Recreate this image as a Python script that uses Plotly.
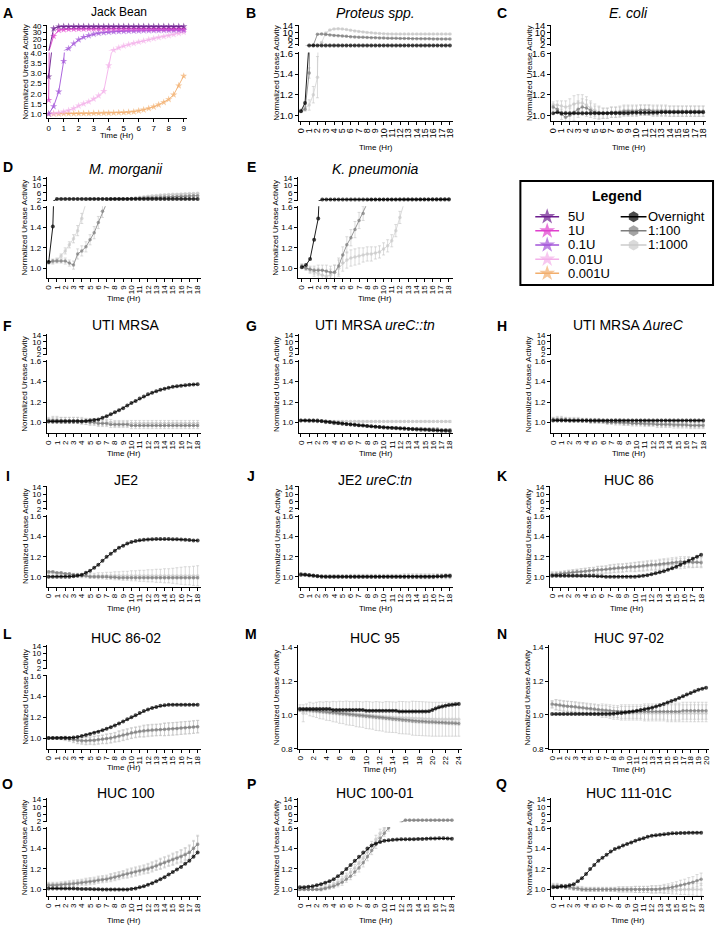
import plotly.graph_objects as go

FONT = "Liberation Sans, Arial, Helvetica, sans-serif"
W, H = 719, 933

# ===================== sampling times (hours) =====================
T_JB = [0, 0.33, 0.67, 1, 1.33, 1.67, 2, 2.33, 2.67, 3, 3.33, 3.67, 4, 4.33,
        4.67, 5, 5.33, 5.67, 6, 6.33, 6.67, 7, 7.33, 7.67, 8, 8.33, 8.67, 9]
T18 = [0, 0.5, 1, 1.5, 2, 2.5, 3, 3.5, 4, 4.5, 5, 5.5, 6, 6.5, 7, 7.5, 8, 8.5, 9, 9.5,
       10, 10.5, 11, 11.5, 12, 12.5, 13, 13.5, 14, 14.5, 15, 15.5, 16, 16.5, 17, 17.5, 18]
T20 = [0, 0.5, 1, 1.5, 2, 2.5, 3, 3.5, 4, 4.5, 5, 5.5, 6, 6.5, 7, 7.5, 8, 8.5, 9, 9.5,
       10, 10.5, 11, 11.5, 12, 12.5, 13, 13.5, 14, 14.5, 15, 15.5, 16, 16.5, 17, 17.5, 18,
       18.5, 19, 19.5, 20]
T24 = [0, 0.5, 1, 1.5, 2, 2.5, 3, 3.5, 4, 4.5, 5, 5.5, 6, 6.5, 7, 7.5, 8, 8.5, 9, 9.5,
       10, 10.5, 11, 11.5, 12, 12.5, 13, 13.5, 14, 14.5, 15, 15.5, 16, 16.5, 17, 17.5, 18,
       18.5, 19, 19.5, 20, 20.5, 21, 21.5, 22, 22.5, 23, 23.5, 24]

# ===================== tick labels =====================
XT9 = [0, 1, 2, 3, 4, 5, 6, 7, 8, 9]
XT18 = [0, 1, 2, 3, 4, 5, 6, 7, 8, 9, 10, 11, 12, 13, 14, 15, 16, 17, 18]
XT20 = [0, 1, 2, 3, 4, 5, 6, 7, 8, 9, 10, 11, 12, 13, 14, 15, 16, 17, 18, 19, 20]
XT24 = [0, 2, 4, 6, 8, 10, 12, 14, 16, 18, 20, 22, 24]
YT_LOW = [1.0, 1.2, 1.4, 1.6]
YT_UP = [2, 6, 10, 14]
YT_MN = [0.8, 1.0, 1.2, 1.4]
YT_JB_LOW = [1.0, 1.5, 2.0, 2.5, 3.0, 3.5, 4.0]
YT_JB_UP = [10, 20, 30, 40]

# ===================== A: Jack bean urease =====================
JB_5U = [2.85, 36.0, 38.8, 39.0, 39.0, 39.0, 39.0, 39.0, 39.0, 39.0,
         39.0, 39.0, 39.0, 39.0, 39.0, 39.0, 39.0, 39.0, 39.0, 39.0,
         39.0, 39.0, 39.0, 39.0, 39.0, 39.0, 39.0, 39.0]
JB_1U = [1.68, 25.0, 33.5, 34.5, 35.0, 35.2, 35.3, 35.4, 35.5, 35.5,
         35.5, 35.5, 35.5, 35.5, 35.5, 35.5, 35.5, 35.5, 35.5, 35.5,
         35.5, 35.5, 35.5, 35.5, 35.5, 35.5, 35.5, 35.5]
JB_01U = [1.0, 1.37, 2.1, 3.62, 6.9, 14.0, 19.7, 23.5, 25.8, 28.0,
          29.2, 30.0, 30.8, 31.3, 31.7, 32.0, 32.3, 32.5, 32.7, 32.9,
          33.0, 33.1, 33.2, 33.3, 33.4, 33.4, 33.5, 33.5]
JB_001U = [1.0, 1.02, 1.05, 1.1, 1.17, 1.27, 1.4, 1.5, 1.6, 1.74,
           1.9, 2.12, 3.4, 4.6, 8.0, 10.7, 12.6, 14.5, 16.4, 18.1,
           19.8, 21.5, 23.0, 24.4, 25.8, 27.4, 29.0, 30.6]
JB_0001U = [1.0, 1.0, 1.0, 1.01, 1.01, 1.01, 1.02, 1.02, 1.02, 1.03,
            1.03, 1.04, 1.04, 1.05, 1.06, 1.07, 1.08, 1.1, 1.15, 1.2,
            1.27, 1.35, 1.45, 1.57, 1.72, 1.95, 2.4, 2.88]

# ===================== B: Proteus =====================
B_ON = [1.04, 1.12, 1.72, 1.72, 1.72, 1.72, 1.72, 1.72, 1.72, 1.72,
        1.72, 1.72, 1.72, 1.72, 1.72, 1.72, 1.72, 1.72, 1.72, 1.72,
        1.72, 1.72, 1.72, 1.72, 1.72, 1.72, 1.72, 1.72, 1.72, 1.72,
        1.72, 1.72, 1.72, 1.72, 1.72, 1.72, 1.72]
B_100 = [1.04, 1.06, 1.41, 1.9, 8.7, 8.9, 8.6, 8.3, 8.0, 7.8,
         7.6, 7.4, 7.2, 7.05, 6.9, 6.8, 6.7, 6.6, 6.5, 6.4,
         6.3, 6.25, 6.2, 6.15, 6.1, 6.05, 6.0, 5.95, 5.9, 5.9,
         5.85, 5.85, 5.8, 5.8, 5.75, 5.75, 5.7]
B_1000 = [1.05, 1.07, 1.1, 1.2, 1.37, 3.5, 9.5, 11.3, 12.0, 12.2,
          12.0, 11.6, 11.2, 10.8, 10.4, 10.1, 9.8, 9.6, 9.4, 9.2,
          9.0, 8.9, 8.8, 8.8, 8.8, 8.8, 8.8, 8.8, 8.8, 8.8,
          8.8, 8.8, 8.8, 8.8, 8.8, 8.8, 8.8]
B_ERR = [0.01, 0.02, 0.05, 0.08, 0.2, 0.2, 0.2, 0.2, 0.2, 0.2,
         0.2, 0.2, 0.2, 0.2, 0.2, 0.2, 0.2, 0.2, 0.2, 0.2,
         0.2, 0.2, 0.2, 0.2, 0.2, 0.2, 0.2, 0.2, 0.2, 0.2,
         0.2, 0.2, 0.2, 0.2, 0.2, 0.2, 0.2]

# ===================== C: E. coli =====================
C_ON = [1.02, 1.03, 1.02, 1.02, 1.02, 1.02, 1.02, 1.02, 1.02, 1.02,
        1.02, 1.02, 1.02, 1.02, 1.02, 1.02, 1.02, 1.02, 1.02, 1.025,
        1.025, 1.025, 1.025, 1.025, 1.025, 1.025, 1.03, 1.03, 1.03, 1.03,
        1.03, 1.03, 1.03, 1.03, 1.03, 1.03, 1.03]
C_100 = [1.08, 1.06, 1.01, 0.98, 1.0, 1.03, 1.06, 1.08, 1.07, 1.05,
         1.03, 1.02, 1.02, 1.02, 1.03, 1.03, 1.03, 1.04, 1.04, 1.04,
         1.04, 1.05, 1.05, 1.05, 1.04, 1.04, 1.04, 1.04, 1.04, 1.04,
         1.04, 1.04, 1.04, 1.04, 1.04, 1.04, 1.04]
C_1000 = [1.1, 1.1, 1.09, 1.08, 1.09, 1.11, 1.12, 1.12, 1.1, 1.07,
          1.05, 1.03, 1.02, 1.02, 1.03, 1.03, 1.04, 1.05, 1.05, 1.05,
          1.05, 1.05, 1.05, 1.05, 1.05, 1.05, 1.05, 1.05, 1.04, 1.04,
          1.04, 1.04, 1.04, 1.04, 1.04, 1.04, 1.04]
C_ERR = [0.03, 0.04, 0.05, 0.06, 0.07, 0.08, 0.08, 0.08, 0.08, 0.07,
         0.06, 0.06, 0.05, 0.05, 0.05, 0.05, 0.05, 0.05, 0.05, 0.05,
         0.05, 0.05, 0.05, 0.05, 0.05, 0.05, 0.05, 0.05, 0.05, 0.05,
         0.05, 0.05, 0.05, 0.05, 0.05, 0.05, 0.05]

# ===================== D: M. morganii =====================
D_ON = [1.06, 1.41, 2.7, 2.7, 2.7, 2.7, 2.7, 2.7, 2.7, 2.7,
        2.7, 2.7, 2.7, 2.7, 2.7, 2.7, 2.7, 2.7, 2.7, 2.7,
        2.7, 2.7, 2.7, 2.7, 2.7, 2.7, 2.7, 2.7, 2.7, 2.7,
        2.7, 2.7, 2.7, 2.7, 2.7, 2.7, 2.7]
D_100 = [1.06, 1.07, 1.07, 1.07, 1.07, 1.05, 1.03, 1.14, 1.17, 1.21,
         1.28, 1.35, 1.45, 1.56, 1.64, 2.7, 2.7, 2.7, 2.7, 2.7,
         2.9, 3.0, 3.1, 3.2, 3.3, 3.4, 3.5, 3.6, 3.7, 3.8,
         3.9, 4.0, 4.1, 4.2, 4.3, 4.4, 4.5]
D_1000 = [1.05, 1.06, 1.08, 1.12, 1.17, 1.23, 1.29, 1.37, 1.49, 1.64,
          2.7, 2.7, 2.7, 2.7, 2.7, 2.7, 2.7, 2.7, 2.7, 2.7,
          3.0, 3.3, 3.6, 3.9, 4.2, 4.4, 4.6, 4.8, 5.0, 5.1,
          5.2, 5.3, 5.4, 5.5, 5.6, 5.7, 5.8]
D_ERR = [0.01, 0.02, 0.02, 0.02, 0.03, 0.03, 0.04, 0.05, 0.05, 0.05,
         0.05, 0.06, 0.06, 0.06, 0.06, 0.1, 0.1, 0.1, 0.1, 0.1,
         0.15, 0.15, 0.15, 0.15, 0.15, 0.2, 0.2, 0.2, 0.2, 0.2,
         0.2, 0.2, 0.2, 0.2, 0.2, 0.2, 0.2]

# ===================== E: K. pneumonia =====================
E_ON = [1.01, 1.03, 1.09, 1.28, 1.49, 2.4, 2.4, 2.4, 2.4, 2.4,
        2.4, 2.4, 2.4, 2.4, 2.4, 2.4, 2.4, 2.4, 2.4, 2.4,
        2.4, 2.4, 2.4, 2.4, 2.4, 2.4, 2.4, 2.4, 2.4, 2.4,
        2.4, 2.4, 2.4, 2.4, 2.4, 2.4, 2.4]
E_100 = [1.02, 1.0, 0.99, 0.98, 0.98, 0.98, 0.97, 0.96, 0.96, 1.02,
         1.13, 1.23, 1.3, 1.38, 1.47, 1.54, 1.64, 2.4, 2.4, 2.4,
         2.4, 2.4, 2.45, 2.45, 2.5, 2.5, 2.5, 2.55, 2.55, 2.6,
         2.6, 2.6, 2.65, 2.65, 2.7, 2.7, 2.7]
E_1000 = [1.02, 1.0, 0.98, 0.96, 0.95, 0.93, 0.92, 0.93, 0.96, 1.0,
          1.05, 1.08, 1.1, 1.11, 1.12, 1.13, 1.14, 1.14, 1.15, 1.16,
          1.19, 1.22, 1.27, 1.37, 1.5, 1.64, 2.4, 2.4, 2.45, 2.5,
          2.5, 2.55, 2.6, 2.6, 2.65, 2.7, 2.7]
E_ERR = [0.02, 0.02, 0.03, 0.04, 0.05, 0.05, 0.06, 0.06, 0.07, 0.08,
         0.08, 0.08, 0.08, 0.08, 0.08, 0.07, 0.07, 0.07, 0.06, 0.06,
         0.06, 0.06, 0.06, 0.06, 0.06, 0.06, 0.1, 0.1, 0.1, 0.1,
         0.1, 0.1, 0.1, 0.1, 0.1, 0.1, 0.1]

# ===================== F: UTI MRSA =====================
F_ON = [1.01, 1.01, 1.01, 1.01, 1.01, 1.01, 1.01, 1.01, 1.01, 1.015,
        1.02, 1.025, 1.03, 1.045, 1.06, 1.08, 1.1, 1.12, 1.14, 1.165,
        1.19, 1.21, 1.235, 1.255, 1.275, 1.29, 1.305, 1.32, 1.33, 1.34,
        1.35, 1.355, 1.36, 1.365, 1.37, 1.372, 1.375]
F_100 = [1.02, 1.02, 1.02, 1.02, 1.02, 1.02, 1.02, 1.02, 1.01, 1.01,
         1.0, 1.0, 0.99, 0.99, 0.99, 0.98, 0.98, 0.98, 0.98, 0.98,
         0.97, 0.97, 0.97, 0.97, 0.97, 0.97, 0.97, 0.97, 0.97, 0.97,
         0.97, 0.97, 0.97, 0.97, 0.97, 0.97, 0.97]
F_1000 = [1.03, 1.03, 1.03, 1.02, 1.02, 1.02, 1.02, 1.02, 1.02, 1.01,
          1.01, 1.01, 1.0, 1.0, 1.0, 1.0, 0.99, 0.99, 0.99, 0.99,
          0.99, 0.99, 0.99, 0.99, 0.99, 0.99, 0.99, 0.99, 0.99, 0.99,
          0.99, 0.99, 0.99, 0.99, 0.99, 0.99, 0.99]
F_ERR = [0.02, 0.03, 0.03, 0.03, 0.03, 0.03, 0.03, 0.03, 0.03, 0.03,
         0.03, 0.03, 0.03, 0.03, 0.03, 0.03, 0.03, 0.03, 0.03, 0.03,
         0.03, 0.03, 0.03, 0.03, 0.03, 0.03, 0.03, 0.03, 0.03, 0.03,
         0.03, 0.03, 0.03, 0.03, 0.03, 0.03, 0.03]

# ===================== G: UTI MRSA ureC::tn =====================
G_ON = [1.02, 1.02, 1.02, 1.02, 1.02, 1.015, 1.01, 1.005, 1.0, 0.995,
        0.99, 0.985, 0.98, 0.977, 0.973, 0.97, 0.966, 0.962, 0.958, 0.955,
        0.952, 0.949, 0.946, 0.943, 0.94, 0.938, 0.936, 0.934, 0.932, 0.93,
        0.928, 0.926, 0.924, 0.922, 0.92, 0.918, 0.916]
G_100 = [1.02, 1.02, 1.02, 1.02, 1.01, 1.01, 1.0, 1.0, 0.99, 0.99,
         0.985, 0.98, 0.98, 0.975, 0.97, 0.97, 0.965, 0.96, 0.96, 0.955,
         0.955, 0.95, 0.95, 0.95, 0.945, 0.945, 0.94, 0.94, 0.94, 0.94,
         0.935, 0.935, 0.935, 0.935, 0.93, 0.93, 0.93]
G_1000 = [1.02, 1.02, 1.01, 1.01, 1.01, 1.01, 1.01, 1.01, 1.01, 1.01,
          1.01, 1.01, 1.01, 1.01, 1.01, 1.01, 1.01, 1.01, 1.01, 1.01,
          1.01, 1.01, 1.01, 1.01, 1.01, 1.01, 1.01, 1.01, 1.01, 1.01,
          1.01, 1.01, 1.01, 1.01, 1.01, 1.01, 1.01]
G_ERR = [0.01, 0.01, 0.01, 0.01, 0.01, 0.01, 0.01, 0.01, 0.01, 0.01,
         0.01, 0.01, 0.01, 0.01, 0.01, 0.01, 0.01, 0.01, 0.01, 0.01,
         0.01, 0.01, 0.01, 0.01, 0.01, 0.01, 0.01, 0.01, 0.01, 0.01,
         0.01, 0.01, 0.01, 0.01, 0.01, 0.01, 0.01]

# ===================== H: UTI MRSA deltaureC =====================
H_ON = [1.02, 1.02, 1.02, 1.02, 1.02, 1.02, 1.02, 1.02, 1.02, 1.02,
        1.02, 1.02, 1.02, 1.02, 1.02, 1.02, 1.02, 1.02, 1.02, 1.02,
        1.02, 1.02, 1.02, 1.02, 1.02, 1.02, 1.02, 1.02, 1.02, 1.02,
        1.02, 1.02, 1.02, 1.02, 1.02, 1.02, 1.02]
H_100 = [1.03, 1.03, 1.03, 1.03, 1.02, 1.02, 1.02, 1.02, 1.02, 1.01,
         1.01, 1.01, 1.01, 1.0, 1.0, 1.0, 1.0, 0.995, 0.995, 0.99,
         0.99, 0.99, 0.985, 0.985, 0.985, 0.98, 0.98, 0.98, 0.98, 0.975,
         0.975, 0.975, 0.975, 0.97, 0.97, 0.97, 0.97]
H_1000 = [1.03, 1.04, 1.04, 1.03, 1.03, 1.03, 1.03, 1.02, 1.02, 1.02,
          1.02, 1.02, 1.01, 1.01, 1.01, 1.01, 1.01, 1.0, 1.0, 1.0,
          1.0, 1.0, 1.0, 0.995, 0.995, 0.995, 0.99, 0.99, 0.99, 0.99,
          0.985, 0.985, 0.985, 0.98, 0.98, 0.98, 0.98]
H_ERR = [0.02, 0.02, 0.02, 0.02, 0.02, 0.02, 0.02, 0.02, 0.02, 0.02,
         0.02, 0.02, 0.02, 0.02, 0.02, 0.025, 0.025, 0.025, 0.025, 0.025,
         0.025, 0.025, 0.025, 0.025, 0.025, 0.03, 0.03, 0.03, 0.03, 0.03,
         0.03, 0.03, 0.03, 0.03, 0.03, 0.03, 0.03]

# ===================== I: JE2 =====================
I_ON = [1.0, 1.0, 1.0, 1.0, 1.0, 1.0, 1.005, 1.01, 1.02, 1.04,
        1.06, 1.09, 1.12, 1.16, 1.2, 1.23, 1.26, 1.29, 1.31, 1.33,
        1.345, 1.355, 1.363, 1.368, 1.372, 1.374, 1.375, 1.375, 1.375, 1.375,
        1.374, 1.373, 1.37, 1.368, 1.365, 1.362, 1.36]
I_100 = [1.05, 1.05, 1.04, 1.04, 1.03, 1.03, 1.02, 1.02, 1.01, 1.01,
         1.0, 1.0, 1.0, 1.0, 1.0, 0.995, 0.995, 0.99, 0.99, 0.99,
         0.99, 0.99, 0.99, 0.99, 0.99, 0.99, 0.99, 0.99, 0.99, 0.99,
         0.99, 0.99, 0.99, 0.99, 0.99, 0.99, 0.99]
I_1000 = [1.04, 1.04, 1.03, 1.03, 1.03, 1.02, 1.02, 1.02, 1.01, 1.01,
          1.01, 1.01, 1.01, 1.01, 1.01, 1.01, 1.01, 1.01, 1.01, 1.01,
          1.01, 1.01, 1.01, 1.01, 1.01, 1.01, 1.01, 1.01, 1.01, 1.01,
          1.01, 1.01, 1.01, 1.01, 1.01, 1.01, 1.01]
I_ERR = [0.01, 0.01, 0.01, 0.01, 0.01, 0.01, 0.015, 0.015, 0.02, 0.02,
         0.025, 0.025, 0.03, 0.03, 0.035, 0.035, 0.04, 0.04, 0.045, 0.045,
         0.05, 0.05, 0.055, 0.055, 0.06, 0.06, 0.065, 0.065, 0.07, 0.07,
         0.075, 0.08, 0.085, 0.09, 0.09, 0.095, 0.1]

# ===================== J: JE2 ureC:tn =====================
J_ON = [1.02, 1.02, 1.015, 1.01, 1.005, 1.0, 1.0, 1.0, 1.0, 1.0,
        1.0, 1.0, 1.0, 1.0, 1.0, 1.0, 1.0, 1.0, 1.0, 1.0,
        1.0, 1.0, 1.0, 1.0, 1.0, 1.0, 1.0, 1.0, 1.0, 1.0,
        1.0, 1.0, 1.0, 1.005, 1.005, 1.01, 1.01]
J_100 = [1.03, 1.025, 1.02, 1.015, 1.01, 1.005, 1.0, 1.0, 1.0, 1.0,
         1.0, 1.0, 1.0, 1.0, 1.0, 1.0, 1.0, 1.0, 1.0, 1.0,
         1.0, 1.0, 1.0, 1.0, 1.0, 1.0, 1.0, 1.0, 1.0, 1.0,
         1.0, 1.0, 1.0, 1.0, 1.0, 1.0, 1.0]
J_1000 = [1.02, 1.02, 1.01, 1.01, 1.01, 1.01, 1.01, 1.01, 1.01, 1.01,
          1.01, 1.01, 1.01, 1.01, 1.01, 1.01, 1.01, 1.01, 1.01, 1.01,
          1.01, 1.01, 1.01, 1.01, 1.01, 1.01, 1.01, 1.01, 1.01, 1.01,
          1.01, 1.01, 1.01, 1.01, 1.01, 1.01, 1.01]
J_ERR = [0.01, 0.01, 0.01, 0.01, 0.01, 0.01, 0.01, 0.01, 0.01, 0.01,
         0.01, 0.01, 0.015, 0.015, 0.015, 0.015, 0.015, 0.015, 0.015, 0.015,
         0.015, 0.015, 0.015, 0.015, 0.015, 0.02, 0.02, 0.02, 0.02, 0.02,
         0.02, 0.02, 0.02, 0.02, 0.02, 0.02, 0.02]

# ===================== K: HUC 86 =====================
K_ON = [1.01, 1.01, 1.01, 1.01, 1.01, 1.01, 1.01, 1.01, 1.01, 1.01,
        1.01, 1.005, 1.005, 1.0, 1.0, 1.0, 1.0, 1.0, 1.0, 1.0,
        1.0, 1.005, 1.01, 1.015, 1.025, 1.035, 1.045, 1.055, 1.07, 1.085,
        1.1, 1.12, 1.14, 1.16, 1.18, 1.2, 1.22]
K_100 = [1.02, 1.025, 1.03, 1.035, 1.04, 1.045, 1.05, 1.05, 1.055, 1.06,
         1.065, 1.07, 1.07, 1.075, 1.08, 1.085, 1.09, 1.09, 1.095, 1.1,
         1.1, 1.105, 1.11, 1.115, 1.12, 1.12, 1.125, 1.13, 1.135, 1.14,
         1.145, 1.15, 1.15, 1.15, 1.145, 1.145, 1.14]
K_1000 = [1.03, 1.03, 1.035, 1.04, 1.04, 1.045, 1.05, 1.05, 1.055, 1.06,
          1.06, 1.065, 1.07, 1.07, 1.075, 1.08, 1.08, 1.085, 1.09, 1.09,
          1.095, 1.1, 1.1, 1.105, 1.11, 1.11, 1.115, 1.12, 1.12, 1.125,
          1.13, 1.13, 1.135, 1.14, 1.14, 1.145, 1.15]
K_ERR = [0.02, 0.02, 0.02, 0.02, 0.025, 0.025, 0.025, 0.03, 0.03, 0.03,
         0.03, 0.035, 0.035, 0.035, 0.04, 0.04, 0.04, 0.04, 0.04, 0.04,
         0.045, 0.045, 0.045, 0.045, 0.045, 0.045, 0.05, 0.05, 0.05, 0.05,
         0.05, 0.05, 0.05, 0.05, 0.05, 0.05, 0.05]

# ===================== L: HUC 86-02 =====================
L_ON = [1.0, 1.0, 1.0, 1.0, 1.0, 1.0, 1.005, 1.01, 1.02, 1.03,
        1.04, 1.05, 1.06, 1.075, 1.09, 1.105, 1.12, 1.14, 1.16, 1.18,
        1.2, 1.22, 1.24, 1.26, 1.275, 1.29, 1.3, 1.31, 1.315, 1.32,
        1.32, 1.32, 1.32, 1.32, 1.32, 1.32, 1.32]
L_100 = [1.0, 1.0, 1.0, 1.0, 1.0, 0.99, 0.985, 0.98, 0.975, 0.975,
         0.978, 0.98, 0.985, 0.99, 0.995, 1.0, 1.01, 1.02, 1.03, 1.04,
         1.05, 1.058, 1.065, 1.07, 1.075, 1.078, 1.08, 1.082, 1.085, 1.088,
         1.09, 1.093, 1.097, 1.1, 1.103, 1.107, 1.11]
L_1000 = [1.0, 1.0, 1.0, 1.0, 0.995, 0.99, 0.98, 0.975, 0.97, 0.97,
          0.972, 0.975, 0.98, 0.985, 0.99, 0.997, 1.005, 1.015, 1.025, 1.035,
          1.045, 1.052, 1.058, 1.063, 1.068, 1.072, 1.075, 1.078, 1.081, 1.084,
          1.087, 1.09, 1.094, 1.098, 1.1, 1.105, 1.11]
L_ERR = [0.01, 0.01, 0.01, 0.015, 0.02, 0.02, 0.025, 0.03, 0.03, 0.035,
         0.035, 0.04, 0.04, 0.04, 0.045, 0.045, 0.045, 0.05, 0.05, 0.05,
         0.05, 0.05, 0.05, 0.055, 0.055, 0.055, 0.055, 0.055, 0.06, 0.06,
         0.06, 0.06, 0.06, 0.06, 0.06, 0.06, 0.06]

# ===================== M: HUC 95 (24 h) =====================
M_ON = [1.035, 1.035, 1.035, 1.035, 1.035, 1.035, 1.035, 1.035, 1.035, 1.035,
        1.03, 1.03, 1.03, 1.03, 1.03, 1.03, 1.03, 1.03, 1.03, 1.03,
        1.025, 1.025, 1.025, 1.025, 1.025, 1.025, 1.025, 1.025, 1.025, 1.025,
        1.02, 1.02, 1.02, 1.02, 1.02, 1.02, 1.02, 1.02, 1.02, 1.022,
        1.03, 1.038, 1.045, 1.05, 1.055, 1.058, 1.06, 1.063, 1.065]
M_100 = [1.03, 1.03, 1.028, 1.027, 1.025, 1.023, 1.021, 1.019, 1.017, 1.015,
         1.013, 1.011, 1.009, 1.007, 1.005, 1.003, 1.001, 0.999, 0.997, 0.995,
         0.993, 0.991, 0.989, 0.987, 0.985, 0.983, 0.981, 0.979, 0.977, 0.975,
         0.973, 0.971, 0.969, 0.967, 0.965, 0.963, 0.962, 0.961, 0.96, 0.959,
         0.958, 0.957, 0.956, 0.955, 0.954, 0.953, 0.952, 0.951, 0.95]
M_1000 = [1.04, 1.01, 1.035, 1.035, 1.03, 1.03, 1.028, 1.026, 1.024, 1.022,
          1.02, 1.018, 1.016, 1.014, 1.012, 1.01, 1.008, 1.006, 1.004, 1.002,
          1.0, 0.998, 0.996, 0.994, 0.992, 0.99, 0.989, 0.988, 0.987, 0.986,
          0.985, 0.984, 0.983, 0.982, 0.981, 0.98, 0.979, 0.978, 0.977, 0.976,
          0.975, 0.975, 0.975, 0.975, 0.975, 0.975, 0.975, 0.975, 0.975]
M_ERR = [0.02, 0.05, 0.03, 0.04, 0.04, 0.045, 0.05, 0.05, 0.055, 0.055,
         0.06, 0.06, 0.065, 0.065, 0.07, 0.07, 0.07, 0.075, 0.075, 0.075,
         0.08, 0.08, 0.08, 0.085, 0.085, 0.085, 0.09, 0.09, 0.09, 0.09,
         0.095, 0.095, 0.095, 0.095, 0.1, 0.1, 0.1, 0.1, 0.1, 0.1,
         0.1, 0.1, 0.1, 0.1, 0.1, 0.1, 0.1, 0.1, 0.1]
M_ERR_S = [0.01, 0.01, 0.01, 0.01, 0.01, 0.01, 0.01, 0.01, 0.01, 0.01,
           0.01, 0.01, 0.01, 0.01, 0.01, 0.01, 0.01, 0.01, 0.01, 0.01,
           0.01, 0.01, 0.01, 0.01, 0.01, 0.01, 0.01, 0.01, 0.01, 0.01,
           0.01, 0.01, 0.01, 0.01, 0.01, 0.01, 0.01, 0.01, 0.01, 0.01,
           0.01, 0.01, 0.01, 0.01, 0.01, 0.01, 0.01, 0.01, 0.01]

# ===================== N: HUC 97-02 (20 h) =====================
N_ON = [1.005, 1.005, 1.005, 1.005, 1.005, 1.005, 1.005, 1.005, 1.005, 1.005,
        1.005, 1.005, 1.005, 1.005, 1.005, 1.005, 1.007, 1.01, 1.012, 1.015,
        1.018, 1.021, 1.025, 1.029, 1.033, 1.038, 1.043, 1.05, 1.057, 1.065,
        1.073, 1.082, 1.09, 1.1, 1.11, 1.12, 1.13, 1.14, 1.148, 1.155, 1.16]
N_100 = [1.065, 1.06, 1.058, 1.055, 1.052, 1.05, 1.048, 1.045, 1.042, 1.04,
         1.038, 1.035, 1.032, 1.03, 1.028, 1.025, 1.022, 1.02, 1.02, 1.02,
         1.02, 1.02, 1.02, 1.02, 1.02, 1.02, 1.02, 1.02, 1.02, 1.02,
         1.02, 1.02, 1.02, 1.02, 1.025, 1.025, 1.025, 1.025, 1.025, 1.025, 1.025]
N_1000 = [1.06, 1.06, 1.055, 1.05, 1.05, 1.048, 1.045, 1.04, 1.04, 1.035,
          1.03, 1.03, 1.025, 1.02, 1.02, 1.015, 1.01, 1.01, 1.01, 1.01,
          1.01, 1.01, 1.01, 1.01, 1.01, 1.01, 1.01, 1.01, 1.01, 1.01,
          1.01, 1.01, 1.01, 1.01, 1.01, 1.01, 1.01, 1.01, 1.01, 1.01, 1.01]
N_ERR = [0.02, 0.03, 0.03, 0.03, 0.03, 0.03, 0.03, 0.03, 0.03, 0.03,
         0.03, 0.03, 0.03, 0.035, 0.035, 0.035, 0.035, 0.035, 0.04, 0.04,
         0.04, 0.04, 0.04, 0.04, 0.045, 0.045, 0.045, 0.045, 0.045, 0.045,
         0.05, 0.05, 0.05, 0.05, 0.05, 0.05, 0.05, 0.05, 0.05, 0.05, 0.05]

# ===================== O: HUC 100 =====================
O_ON = [1.01, 1.01, 1.01, 1.01, 1.01, 1.01, 1.008, 1.006, 1.005, 1.004,
        1.003, 1.002, 1.001, 1.0, 1.0, 1.0, 1.0, 1.0, 1.0, 1.0,
        1.005, 1.01, 1.02, 1.03, 1.045, 1.06, 1.08, 1.1, 1.12, 1.145,
        1.17, 1.195, 1.22, 1.25, 1.28, 1.32, 1.36]
O_100 = [1.04, 1.04, 1.04, 1.045, 1.05, 1.05, 1.055, 1.06, 1.065, 1.07,
         1.075, 1.08, 1.09, 1.095, 1.1, 1.11, 1.12, 1.13, 1.14, 1.15,
         1.16, 1.17, 1.18, 1.19, 1.2, 1.215, 1.23, 1.245, 1.26, 1.275,
         1.29, 1.305, 1.32, 1.34, 1.36, 1.4, 1.44]
O_1000 = [1.05, 1.05, 1.05, 1.055, 1.06, 1.06, 1.065, 1.07, 1.075, 1.08,
          1.085, 1.09, 1.1, 1.105, 1.11, 1.12, 1.13, 1.14, 1.15, 1.16,
          1.17, 1.18, 1.19, 1.2, 1.21, 1.225, 1.24, 1.255, 1.27, 1.285,
          1.3, 1.315, 1.33, 1.35, 1.37, 1.41, 1.45]
O_ERR = [0.02, 0.02, 0.02, 0.02, 0.02, 0.025, 0.025, 0.025, 0.025, 0.03,
         0.03, 0.03, 0.03, 0.03, 0.03, 0.035, 0.035, 0.035, 0.035, 0.04,
         0.04, 0.04, 0.04, 0.04, 0.045, 0.045, 0.045, 0.05, 0.05, 0.05,
         0.055, 0.055, 0.06, 0.06, 0.065, 0.07, 0.08]

# ===================== P: HUC 100-01 =====================
P_ON = [1.02, 1.02, 1.025, 1.03, 1.04, 1.05, 1.065, 1.08, 1.1, 1.13,
        1.16, 1.2, 1.24, 1.28, 1.32, 1.36, 1.4, 1.43, 1.45, 1.465,
        1.475, 1.48, 1.485, 1.488, 1.49, 1.49, 1.49, 1.49, 1.492, 1.494,
        1.495, 1.497, 1.498, 1.5, 1.5, 1.498, 1.495]
P_100 = [1.0, 1.0, 1.0, 1.0, 1.0, 1.0, 1.01, 1.02, 1.03, 1.05,
         1.07, 1.1, 1.13, 1.17, 1.21, 1.26, 1.32, 1.38, 1.44, 1.5,
         1.55, 1.6, 1.64, 1.64, 1.64, 2.7, 2.7, 2.7, 2.7, 2.7,
         2.7, 2.7, 2.7, 2.7, 2.7, 2.7, 2.7]
P_1000 = [1.0, 1.0, 1.0, 1.0, 1.0, 1.01, 1.02, 1.03, 1.05, 1.07,
          1.1, 1.13, 1.17, 1.21, 1.26, 1.31, 1.37, 1.43, 1.49, 1.55,
          1.6, 1.64, 1.64, 1.64, 1.64, 2.75, 2.75, 2.75, 2.75, 2.75,
          2.75, 2.75, 2.75, 2.75, 2.75, 2.75, 2.75]
P_ERR = [0.01, 0.01, 0.01, 0.01, 0.01, 0.015, 0.015, 0.02, 0.02, 0.025,
         0.03, 0.03, 0.035, 0.035, 0.04, 0.04, 0.04, 0.04, 0.04, 0.04,
         0.03, 0.03, 0.03, 0.03, 0.03, 0.1, 0.1, 0.1, 0.1, 0.1,
         0.1, 0.1, 0.1, 0.1, 0.1, 0.1, 0.1]

# ===================== Q: HUC 111-01C =====================
Q_ON = [1.02, 1.02, 1.03, 1.03, 1.04, 1.05, 1.08, 1.11, 1.15, 1.2,
        1.24, 1.28, 1.31, 1.34, 1.37, 1.395, 1.41, 1.43, 1.445, 1.46,
        1.475, 1.49, 1.5, 1.515, 1.525, 1.53, 1.535, 1.54, 1.545, 1.55,
        1.55, 1.552, 1.553, 1.554, 1.555, 1.555, 1.555]
Q_100 = [1.03, 1.03, 1.03, 1.02, 1.02, 1.01, 1.01, 1.0, 1.0, 1.0,
         1.0, 1.0, 1.0, 1.0, 1.0, 1.0, 1.0, 1.0, 1.0, 1.0,
         1.0, 1.0, 1.0, 1.0, 1.0, 1.0, 1.005, 1.01, 1.015, 1.02,
         1.03, 1.04, 1.05, 1.06, 1.07, 1.085, 1.1]
Q_1000 = [1.04, 1.04, 1.03, 1.03, 1.02, 1.02, 1.01, 1.01, 1.0, 1.0,
          1.0, 1.0, 1.0, 1.0, 1.0, 1.0, 1.0, 1.0, 1.0, 1.0,
          1.0, 1.0, 1.0, 1.0, 1.0, 1.0, 1.0, 1.0, 1.0, 1.0,
          1.0, 1.0, 1.0, 1.0, 1.0, 1.0, 1.0]
Q_ERR = [0.02, 0.02, 0.02, 0.02, 0.02, 0.02, 0.02, 0.02, 0.02, 0.02,
         0.02, 0.02, 0.02, 0.02, 0.02, 0.02, 0.025, 0.025, 0.025, 0.025,
         0.03, 0.03, 0.03, 0.03, 0.035, 0.035, 0.035, 0.04, 0.04, 0.045,
         0.045, 0.05, 0.05, 0.055, 0.055, 0.06, 0.06]

# ===================== legend labels =====================
JB_LABELS = ["5U", "1U", "0.1U", "0.01U", "0.001U"]
BAC_LABELS = ["Overnight", "1:100", "1:1000"]

# ===================== styles =====================
BLACK = "#000000"
DGRAY = "#7d7d7d"
LGRAY = "#cbcbcb"
ERRC = "#c2c2c2"
JB_COLORS = ["#6c1d8e", "#e03fcd", "#a253d9", "#f4b0ea", "#f2ae6c"]

fig = go.Figure()
layout = {}
annotations = []
shapes = []
counter = {"x": 0, "y": 0}


def new_axis(kind):
    counter[kind] += 1
    n = counter[kind]
    ref = kind if n == 1 else f"{kind}{n}"
    key = f"{kind}axis" if n == 1 else f"{kind}axis{n}"
    return ref, key


def fx(p):
    return p / W


def fy(p):
    return 1 - p / H


def pix_range(pa, va, pb, vb, p_lo, p_hi):
    s = (vb - va) / (pb - pa)
    return [va + (p_lo - pa) * s, va + (p_hi - pa) * s]


def text_ann(txt, x, y, size, bold=False, angle=0, xanchor="center", yanchor="middle"):
    if bold:
        txt = f"<b>{txt}</b>"
    annotations.append(dict(text=txt, x=fx(x), y=fy(y), xref="paper", yref="paper",
                            showarrow=False, textangle=angle, xanchor=xanchor, yanchor=yanchor,
                            font=dict(family=FONT, size=size, color=BLACK)))


def yaxis_dict(dom_px, rng, anchor, tickvals, ticktext, fs):
    return dict(domain=[fy(dom_px[1]), fy(dom_px[0])], range=rng, anchor=anchor,
                showline=True, linecolor=BLACK, linewidth=1, ticks="outside", ticklen=3,
                tickwidth=1, tickcolor=BLACK, tickvals=tickvals, ticktext=ticktext,
                tickfont=dict(family=FONT, size=fs, color=BLACK), showgrid=False,
                zeroline=False, fixedrange=True)


def add_series(xref, ycopies, T, Y, color, symbol, size, lw, err=None):
    """ycopies: list of (yref, lo, hi, is_upper)."""
    assert len(T) == len(Y), (len(T), len(Y))
    if err is not None:
        assert len(err) == len(Y), (len(err), len(Y))
    n = len(Y)
    for yr, lo, hi, is_upper in ycopies:
        vis = [lo <= v <= hi for v in Y]
        if is_upper:
            keep = [vis[i] or (i > 0 and vis[i - 1]) or (i < n - 1 and vis[i + 1]) for i in range(n)]
            yy = [Y[i] if keep[i] else None for i in range(n)]
        else:
            yy = list(Y)
        sizes = [size if vis[i] else 0 for i in range(n)]
        kw = {}
        if err is not None:
            kw["error_y"] = dict(type="data", array=[err[i] if vis[i] else 0 for i in range(n)],
                                 visible=True, color=ERRC, thickness=0.6, width=1.5)
        fig.add_trace(go.Scatter(x=T, y=yy, xaxis=xref, yaxis=yr, mode="lines+markers",
                                 line=dict(color=color, width=lw),
                                 marker=dict(color=color, size=sizes, symbol=symbol, line=dict(width=0)),
                                 hoverinfo="skip", showlegend=False, cliponaxis=not is_upper,
                                 connectgaps=False, **kw))


def panel(letter, title, X, R, series, xticks, tick_fs=8, title_fs=14, title_cx=None,
          letter_x=None, lower=None, upper="default", low_ticks=YT_LOW, up_ticks=YT_UP,
          xangle=-90, xtick_fs=None):
    xref, xkey = new_axis("x")
    ylo, ylokey = new_axis("y")
    # lower (main) segment
    if lower is None:
        lower = ((R["y16"], 1.6), (R["y10"], 1.0), R["y16"] - 1, R["yb"])
    (pa, va), (pb, vb), ptop, pbot = lower
    rlo = pix_range(pa, va, pb, vb, pbot, ptop)
    layout[ylokey] = yaxis_dict((ptop, pbot), rlo, xref,
                                low_ticks, [f"{v:.1f}" for v in low_ticks], tick_fs)
    ycopies = [(ylo, rlo[0], rlo[1], False)]
    top_px = ptop
    # upper (broken) segment
    if upper == "default":
        upper = ((R["y14"], 14.0), (R["ybu"], 1.65), R["y14"] - 1, R["ybu"])
    if upper is not None:
        yup, yupkey = new_axis("y")
        (pa, va), (pb, vb), ptop2, pbot2 = upper
        rup = pix_range(pa, va, pb, vb, pbot2, ptop2)
        layout[yupkey] = yaxis_dict((ptop2, pbot2), rup, xref,
                                    up_ticks, [str(v) for v in up_ticks], tick_fs)
        ycopies.append((yup, rup[0], rup[1], True))
        top_px = ptop2
    # x axis
    layout[xkey] = dict(domain=[fx(X["xa"]), fx(X["xr"])],
                        range=pix_range(X["x0"], 0, X["x1"], X["tmax"], X["xa"], X["xr"]),
                        anchor=ylo, showline=True, linecolor=BLACK, linewidth=1,
                        ticks="outside", ticklen=3, tickwidth=1, tickcolor=BLACK,
                        tickvals=xticks, ticktext=[str(v) for v in xticks], tickangle=xangle,
                        tickfont=dict(family=FONT, size=xtick_fs or tick_fs, color=BLACK),
                        showgrid=False, zeroline=False, fixedrange=True)
    for s in series:
        add_series(xref, ycopies, *s)
    # texts
    cx = title_cx if title_cx is not None else X["tcx"]
    text_ann(title, cx, R["title_y"], title_fs)
    text_ann(letter, letter_x if letter_x is not None else X["lx"], R["letter_y"], 14, bold=True)
    text_ann("Normalized Urease Activity", X["xa"] - 22, (top_px + R["yb"]) / 2, 8, angle=-90)
    text_ann("Time (Hr)", (X["xa"] + X["xr"]) / 2, R["time_y"], 8)


def bac(T, on, d100, d1000, e100, e1000):
    return [
        (T, d1000, LGRAY, "circle", 3.5, 0.7, e1000),
        (T, d100, DGRAY, "circle", 3.5, 0.8, e100),
        (T, on, BLACK, "circle", 4, 0.9, None),
    ]


# ---------- geometry (pixels) ----------
C1 = dict(xa=44, x0=46, x1=196, xr=199, tmax=18, tcx=124, lx=5)
C2 = dict(xa=298, x0=300, x1=450, xr=453, tmax=18, tcx=375, lx=250)
C3 = dict(xa=552, x0=554, x1=705, xr=708, tmax=18, tcx=630, lx=502)
XA = dict(xa=44.5, x0=46, x1=182, xr=185, tmax=9, tcx=117, lx=5)
XM = dict(xa=297, x0=299, x1=459, xr=462, tmax=24, tcx=375, lx=250)
XN = dict(xa=550, x0=553, x1=708, xr=711, tmax=20, tcx=630, lx=502)
XP = dict(xa=297, x0=299, x1=452, xr=455, tmax=18, tcx=375, lx=250)

R1 = dict(y14=21, ybu=41, y16=49, y10=111.5, yb=117, time_y=144, title_y=8, letter_y=8)
RA = dict(y14=21, ybu=46, y16=49, y10=110, yb=114, time_y=132, title_y=7, letter_y=8)
R2 = dict(y14=175, ybu=198, y16=204.5, y10=266, yb=276, time_y=297, title_y=166, letter_y=164)
R3 = dict(y14=334, ybu=354, y16=360, y10=422, yb=433, time_y=453, title_y=323, letter_y=324)
R4 = dict(y14=487, ybu=510, y16=517, y10=578, yb=588, time_y=610, title_y=480, letter_y=476)
R5 = dict(y14=648, ybu=671, y16=678, y10=741, yb=752, time_y=771, title_y=640, letter_y=636)
R5S = dict(yb=752, time_y=773, title_y=640, letter_y=636)
R6 = dict(y14=803, ybu=826, y16=832, y10=894, yb=901, time_y=925, title_y=797, letter_y=787)

# ---------- A ----------
jb_series = [(T_JB, d, c, "star", 5.5, 0.9, None)
             for d, c in zip([JB_0001U, JB_001U, JB_01U, JB_1U, JB_5U], JB_COLORS[::-1])]
panel("A", "Jack Bean", XA, RA, jb_series, XT9, title_fs=12, xangle=0,
      lower=((49, 4.0), (110, 1.0), 48, 114), upper=((21, 40.0), (46, 4.0), 20.3, 46),
      low_ticks=YT_JB_LOW, up_ticks=YT_JB_UP)

panel("B", "<i>Proteus spp.</i>", C2, R1, bac(T18, B_ON, B_100, B_1000, B_ERR, B_ERR), XT18,
      tick_fs=9.5, xtick_fs=9)
panel("C", "<i>E. coli</i>", C3, R1, bac(T18, C_ON, C_100, C_1000, C_ERR, C_ERR), XT18,
      tick_fs=9.5, xtick_fs=9)
panel("D", "<i>M. morganii</i>", C1, R2, bac(T18, D_ON, D_100, D_1000, D_ERR, D_ERR), XT18)
panel("E", "<i>K. pneumonia</i>", dict(C2, xa=297, x0=301, x1=449), R2,
      bac(T18, E_ON, E_100, E_1000, E_ERR, E_ERR), XT18)
panel("F", "UTI MRSA", C1, R3, bac(T18, F_ON, F_100, F_1000, F_ERR, F_ERR), XT18)
panel("G", "UTI MRSA <i>ureC::tn</i>", C2, R3, bac(T18, G_ON, G_100, G_1000, G_ERR, G_ERR), XT18)
panel("H", "UTI MRSA <i>\u0394ureC</i>", C3, R3, bac(T18, H_ON, H_100, H_1000, H_ERR, H_ERR), XT18)
panel("I", "JE2", C1, R4, bac(T18, I_ON, I_100, I_1000, G_ERR, I_ERR), XT18)
panel("J", "JE2 <i>ureC:tn</i>", C2, R4, bac(T18, J_ON, J_100, J_1000, J_ERR, J_ERR), XT18)
panel("K", "HUC 86", dict(C3, xa=551, x0=553, x1=703, xr=706), R4,
      bac(T18, K_ON, K_100, K_1000, K_ERR, K_ERR), XT18)
panel("L", "HUC 86-02", C1, R5, bac(T18, L_ON, L_100, L_1000, L_ERR, L_ERR), XT18)
panel("M", "HUC 95", XM, R5S, bac(T24, M_ON, M_100, M_1000, M_ERR_S, M_ERR), XT24,
      lower=((649, 1.4), (752, 0.8), 647.3, 752), upper=None, low_ticks=YT_MN)
panel("N", "HUC 97-02", XN, R5S, bac(T20, N_ON, N_100, N_1000, N_ERR, N_ERR), XT20,
      lower=((649, 1.4), (752, 0.8), 647.3, 752), upper=None, low_ticks=YT_MN)
panel("O", "HUC 100", C1, R6, bac(T18, O_ON, O_100, O_1000, O_ERR, O_ERR), XT18)
panel("P", "HUC 100-01", XP, R6, bac(T18, P_ON, P_100, P_1000, P_ERR, P_ERR), XT18)
panel("Q", "HUC 111-01C", dict(C3, x1=703, xr=706), R6, bac(T18, Q_ON, Q_100, Q_1000, Q_ERR, Q_ERR), XT18)

# ---------- legend box ----------
LBX0, LBX1, LBY0, LBY1 = 521, 715, 178, 283
shapes.append(dict(type="rect", xref="paper", yref="paper", x0=fx(LBX0), x1=fx(LBX1),
                   y0=fy(LBY1), y1=fy(LBY0), line=dict(color=BLACK, width=2),
                   fillcolor="rgba(0,0,0,0)"))
text_ann("Legend", 618, 193, 14, bold=True)
lx_ref, lx_key = new_axis("x")
ly_ref, ly_key = new_axis("y")
layout[lx_key] = dict(domain=[fx(LBX0), fx(LBX1)], range=[LBX0, LBX1], visible=False,
                      anchor=ly_ref, fixedrange=True)
layout[ly_key] = dict(domain=[fy(LBY1), fy(LBY0)], range=[LBY1, LBY0], visible=False,
                      anchor=lx_ref, fixedrange=True)
ROW0, ROWSTEP = 214, 14.3
for i, (lab, col) in enumerate(zip(JB_LABELS, JB_COLORS)):
    yy = ROW0 + i * ROWSTEP
    fig.add_trace(go.Scatter(x=[536, 548, 560], y=[yy, yy, yy], xaxis=lx_ref, yaxis=ly_ref,
                             mode="lines+markers", line=dict(color=col, width=1.5),
                             marker=dict(symbol="star", size=[0, 12, 0], color=col, line=dict(width=0)),
                             hoverinfo="skip", showlegend=False))
    text_ann(lab, 567, yy, 13, xanchor="left")
for i, (lab, col) in enumerate(zip(BAC_LABELS, [BLACK, DGRAY, LGRAY])):
    yy = ROW0 + i * ROWSTEP
    fig.add_trace(go.Scatter(x=[622, 635, 648], y=[yy, yy, yy], xaxis=lx_ref, yaxis=ly_ref,
                             mode="lines+markers", line=dict(color=col, width=1.5),
                             marker=dict(symbol="hexagon", size=[0, 11, 0], color=col, line=dict(width=0)),
                             hoverinfo="skip", showlegend=False))
    text_ann(lab, 647, yy, 13, xanchor="left")

fig.update_layout(width=W, height=H, autosize=False, margin=dict(l=0, r=0, t=0, b=0),
                  paper_bgcolor="white", plot_bgcolor="rgba(0,0,0,0)", showlegend=False,
                  annotations=annotations, shapes=shapes, **layout)
fig.write_html("out.html", config={"displayModeBar": False, "staticPlot": True},
               post_script="document.body.style.margin='0';document.body.style.padding='0';"
                           "document.body.style.overflow='hidden';"
                           "document.documentElement.style.overflow='hidden';")
